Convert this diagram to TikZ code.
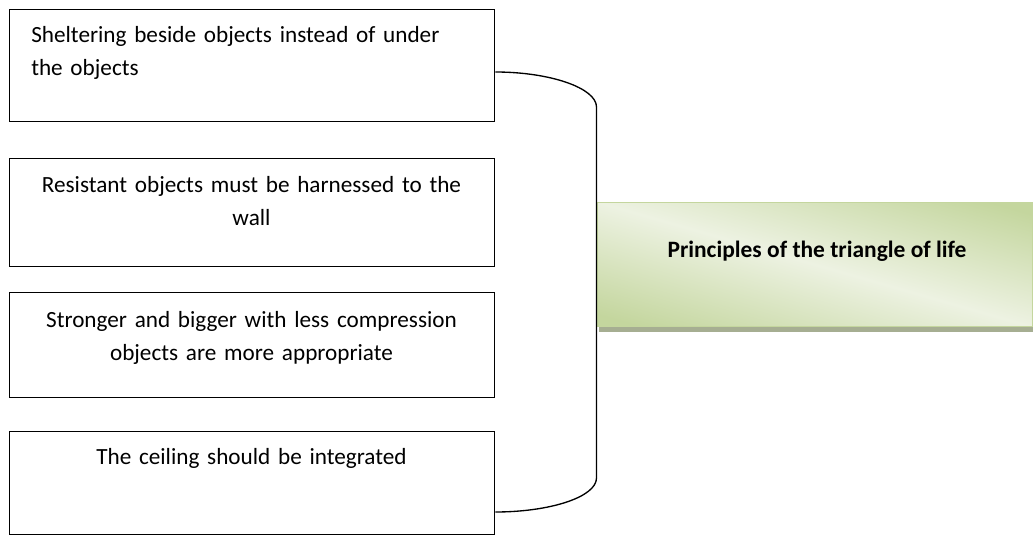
\documentclass[tikz,border=0pt]{standalone}
\usepackage{fontspec}
\setmainfont{Carlito}
\usetikzlibrary{positioning}
\definecolor{leafgreen}{RGB}{196,214,158}
\definecolor{leaflight}{RGB}{237,242,226}
\definecolor{leafshadow}{RGB}{166,174,146}
\pgfdeclareverticalshading{leafshade}{100bp}{color(0bp)=(leafgreen); color(22bp)=(leafgreen); color(50bp)=(leaflight); color(78bp)=(leafgreen); color(100bp)=(leafgreen)}

\begin{document}
\begin{tikzpicture}[x=0.75pt,y=-0.75pt,
  itembox/.style={draw=black, line width=1pt, anchor=north west, inner sep=0pt, minimum width=363.75pt},
  itemtext/.style={inner sep=0pt, text width=360pt, font=\fontsize{17.4}{24.75}\selectfont},
  leafbox/.style={draw=leafgreen, line width=0.5pt, anchor=north west, inner sep=0pt,
    minimum width=326.25pt, minimum height=93pt, shading=leafshade, shading angle=-16},
  bracket/.style={draw=black, line width=1pt}]
\useasboundingbox (0,0) rectangle (1033,535);

% Nodes
% boxes on the left
\node[itembox, minimum height=84pt](b1) at (9,9) {};
\node[itembox, minimum height=81pt](b2) at (9,158) {};
\node[itembox, minimum height=78.75pt](b3) at (9,292) {};
\node[itembox, minimum height=76.9pt](b4) at (9,431) {};

\node[itemtext, align=left, anchor=base west](t1) at (31,43) {Sheltering beside objects instead of under\\the objects};
\node[itemtext, align=center, anchor=base](t2) at (251.5,192) {Resistant objects must be harnessed to the\\wall};
\node[itemtext, align=center, anchor=base](t3) at (251.5,327) {Stronger and bigger with less compression\\objects are more appropriate};
\node[itemtext, align=center, anchor=base](t4) at (251.5,464) {The ceiling should be integrated};

% title on the right
\fill[leafshadow] (599,326) rectangle (1033,332);
\node[leafbox](leaf) at (597,202) {};
\node[font=\fontsize{17.6}{20}\selectfont\bfseries, inner sep=0pt, anchor=base](title) at (817,257) {Principles of the triangle of life};

% bracket
\coordinate (brtop) at (b1.east |- 0,72);
\coordinate (brbot) at (b4.east |- 0,512);
\draw[bracket] (brtop) .. controls (550,72) and (596.5,88) .. (596.5,107)
  -- (596.5,478) .. controls (596.5,497) and (550,512) .. (brbot);

\end{tikzpicture}
\end{document}
